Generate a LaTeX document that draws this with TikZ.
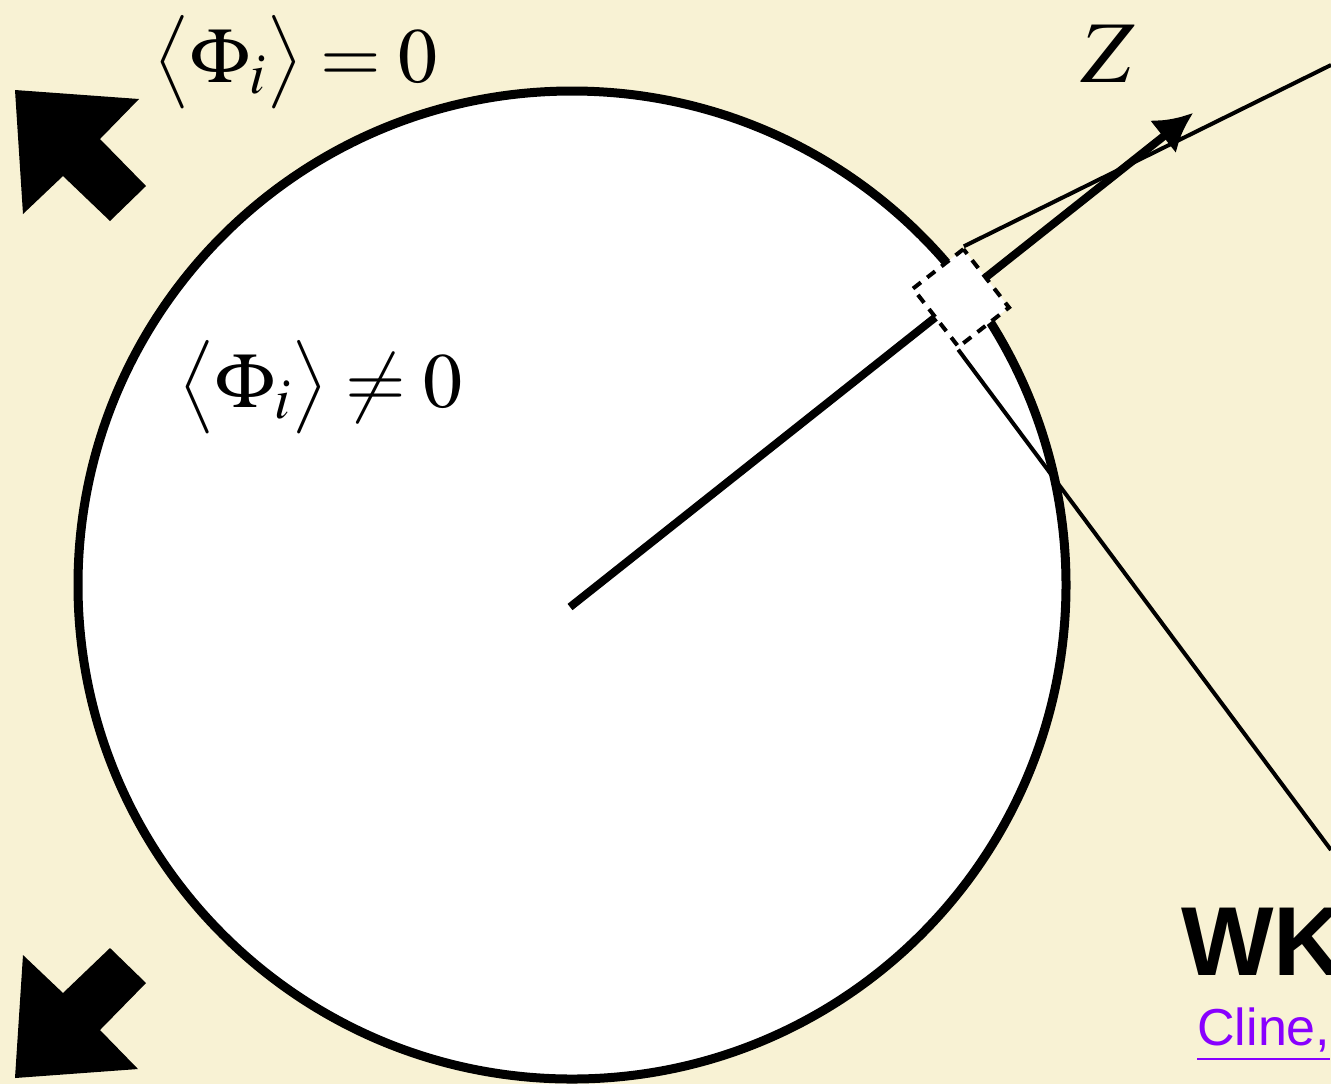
\documentclass[tikz,border=0pt]{standalone}
\usepackage[no-math]{fontspec}
\usepackage{mathptmx}
\newfontfamily\arialfont{Liberation Sans}
\definecolor{cream}{RGB}{248,242,212}
\definecolor{linkpurple}{RGB}{136,0,255}
\usetikzlibrary{arrows.meta}
\tikzstyle{zoomwin}=[draw, fill=white, line width=2pt, dash pattern=on 5pt off 4pt, minimum width=32pt, minimum height=37pt, inner sep=0pt, rotate=38]
\tikzstyle{vev}=[anchor=base west, inner sep=0pt, font=\fontsize{39}{46}\selectfont]

\begin{document}
\begin{tikzpicture}[x=0.5pt, y=-0.5pt]
        \useasboundingbox (0,0) rectangle (1331,1084);
        \fill[cream] (0,0) rectangle (1331,1084);
        \clip (0,0) rectangle (1331,1084);
        % bubble
        \draw[line width=4.5pt, fill=white] (572,585) circle (494);
        \coordinate (o) at (570,607);
        \coordinate (tip) at (1193,113);
        \coordinate (up) at (1331,65);
        \coordinate (down) at (1331,850);
        \draw[line width=4pt, -{Latex[length=19pt,width=21pt]}] (o) -- (tip);
        \node[zoomwin] (win) at (961,298) {};
        \draw[line width=2pt] (win.north east) -- (up);
        \draw[line width=2pt] (win.south west) -- (down);
        % expansion arrows
        \fill (15,90) -- (139,99) -- (100,139) -- (146,186) -- (110,221) -- (63,176) -- (23,214) -- cycle;
        \fill (15,1078) -- (23,955) -- (63,993) -- (110,948) -- (146,983) -- (100,1030) -- (138,1069) -- cycle;
        % labels
        \node[vev] (out) at (153,82) {$\bigl\langle \Phi_i \bigr\rangle = 0$};
        \node[vev] (in) at (178,407) {$\bigl\langle \Phi_i \bigr\rangle \neq 0$};
        \node[anchor=base, inner sep=0pt, font=\fontsize{44}{50}\selectfont] (z) at (1108,82) {$Z$};
        \node[anchor=base west, inner sep=0pt, font=\arialfont\bfseries\fontsize{49}{56}\selectfont] (wk) at (1181,975) {WK};
        \node[anchor=base west, inner sep=0pt, text=linkpurple, font=\arialfont\fontsize{26}{30}\selectfont] (ref) at (1197,1045) {\underline{Cline,}};
    \end{tikzpicture}
\end{document}
